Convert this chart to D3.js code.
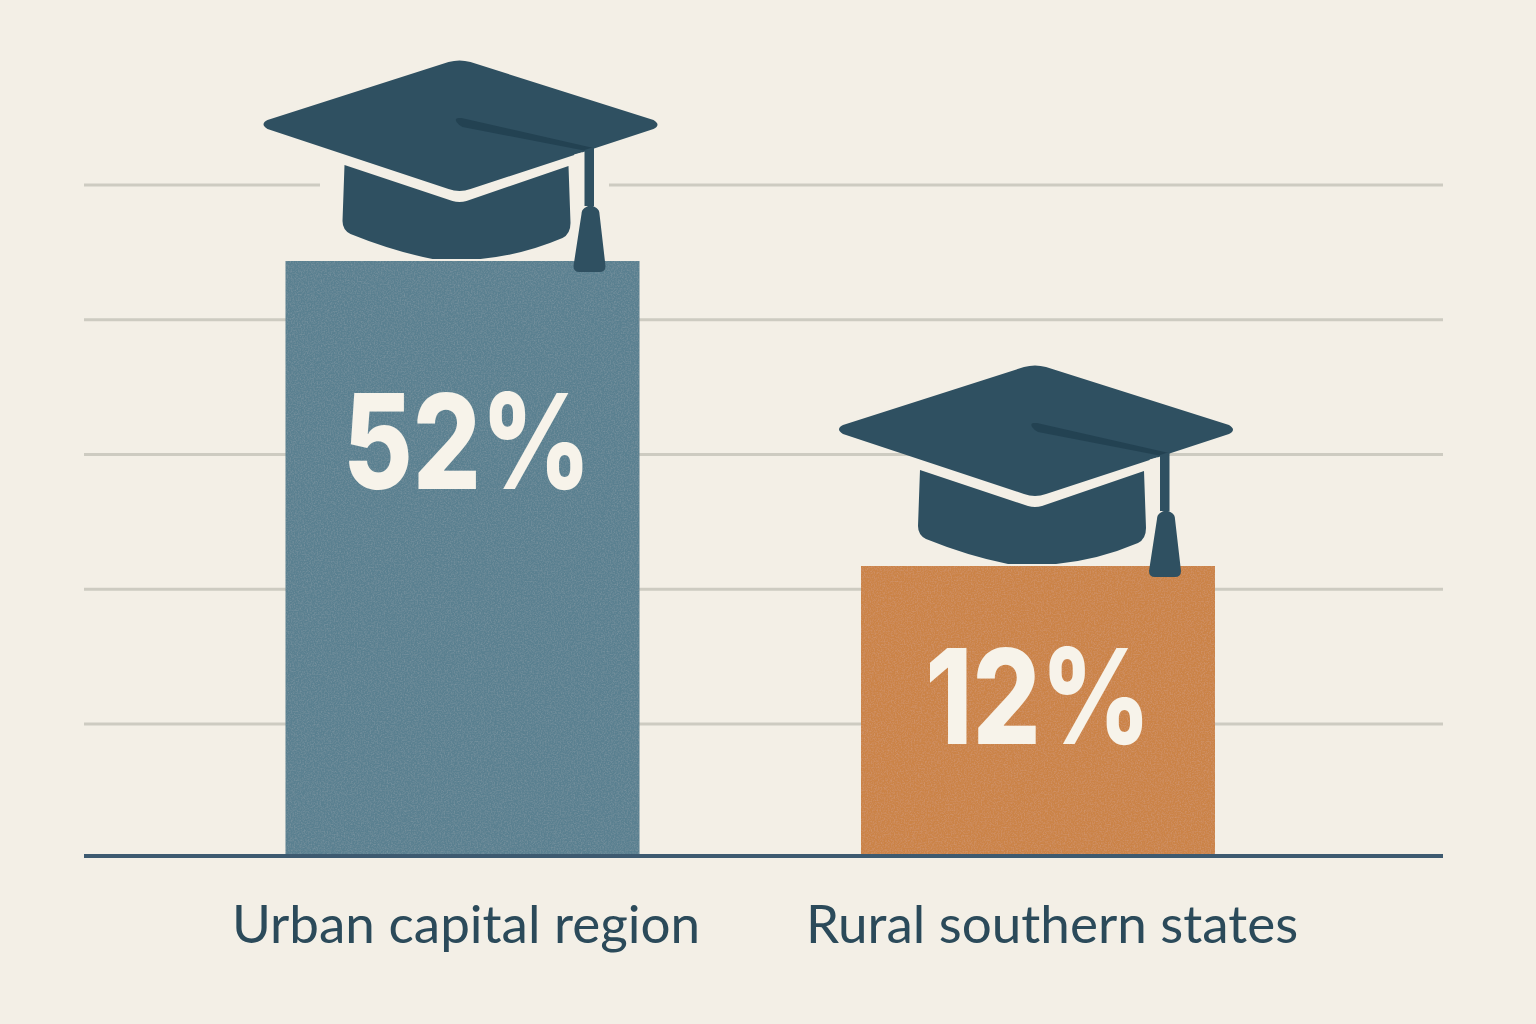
<!DOCTYPE html>
<html lang="en">
<head>
    <meta charset="UTF-8">
    <title>Urban capital region vs rural southern states</title>
    <script src="https://d3js.org/d3.v7.min.js"></script>
    <style>
        html, body {
            margin: 0;
            padding: 0;
            background: #f3efe6;
        }
        svg {
            display: block;
        }
        .grid line {
            stroke: #cdcbc1;
            stroke-width: 3px;
        }
        .value {
            font-family: Inter, "Noto Sans", sans-serif;
            font-weight: 800;
            font-size: 132px;
            fill: #f7f3ea;
            text-anchor: middle;
        }
        .category {
            font-family: Lato, "Noto Sans", sans-serif;
            font-size: 53px;
            fill: #2b4a5a;
            text-anchor: middle;
        }
    </style>
</head>
<body>
    <svg width="1536" height="1024"></svg>

    <script>
        // Values as printed on the bars
        const categories = ["Urban capital region", "Rural southern states"];
        const values = [52, 12];
        const valueLabels = ["52%", "12%"];
        const barColors = ["#5a8090", "#cb8346"];

        // Unlabelled background grid levels
        const gridLevels = [1, 2, 3, 4, 5];

        const svg = d3.select("svg");

        // Bars in the picture are not proportional to their labels, so the y scale has a knee at 12
        const y = d3.scaleLinear().domain([0, 12, 52]).range([856, 566, 261]);
        const gridY = d3.scaleLinear().domain([1, 5]).range([724, 185]);
        const x = d3.scaleBand().domain(categories).range([174.75, 1325.75]);
        const barWidth = 354;

        // Labels are not quite centred on the bars
        const labelX = d3.scalePoint().domain(categories).range([466, 1052]);
        const valueX = d3.scalePoint().domain(values).range([467, 1038]);
        const valueY = d3.scaleLinear().domain([52, 12]).range([489, 744]);

        svg.append("rect").attr("width", 1536).attr("height", 1024).attr("fill", "#f3efe6");

        // grain for the bars
        svg.append("defs").append("filter").attr("id", "grain")
            .call(f => {
                f.append("feTurbulence").attr("type", "fractalNoise").attr("baseFrequency", 0.7)
                    .attr("numOctaves", 2).attr("seed", 4).attr("result", "noise");
                f.append("feColorMatrix").attr("in", "noise").attr("type", "matrix")
                    .attr("values", "0 0 0 0 1  0 0 0 0 1  0 0 0 0 1  0.18 0 0 0 -0.07").attr("result", "speck");
                f.append("feComposite").attr("in", "speck").attr("in2", "SourceGraphic").attr("operator", "in").attr("result", "clip");
                f.append("feMerge").call(m => {
                    m.append("feMergeNode").attr("in", "SourceGraphic");
                    m.append("feMergeNode").attr("in", "clip");
                });
            });

        // Grid lines
        svg.append("g").attr("class", "grid")
            .selectAll("line")
            .data(gridLevels)
            .enter().append("line")
            .attr("x1", 84)
            .attr("x2", 1443)
            .attr("y1", d => gridY(d))
            .attr("y2", d => gridY(d));

        // Top grid line breaks around the first cap
        svg.append("line")
            .attr("x1", 320).attr("x2", 609)
            .attr("y1", gridY(5)).attr("y2", gridY(5))
            .attr("stroke", "#f3efe6").attr("stroke-width", 5);

        const centre = d => x(d) + x.bandwidth() / 2;

        // Bars
        svg.append("g")
            .selectAll("rect")
            .data(categories)
            .enter().append("rect")
            .attr("x", d => centre(d) - barWidth / 2)
            .attr("width", barWidth)
            .attr("y", (d, i) => y(values[i]))
            .attr("height", (d, i) => y(0) - y(values[i]))
            .attr("fill", (d, i) => barColors[i])
            .attr("filter", "url(#grain)");

        // Baseline
        svg.append("line")
            .attr("x1", 84).attr("x2", 1443)
            .attr("y1", y(0)).attr("y2", y(0))
            .attr("stroke", "#3d5a70").attr("stroke-width", 4);

        // Cap icon, local origin is the middle of the bar top
        function drawCap(g) {
            g.append("path").attr("fill", "#2f5061")
                .attr("d", "M-195-141L-14-199Q-3-202 8-199L191-141Q199-136 191-132L8-72Q-3-68-14-72L-195-132Q-203-137-195-141Z");
            g.append("path").attr("fill", "#2f5061")
                .attr("d", "M-118-96L-10-60Q-3-58 4-60L106-95L108-38Q108-27 100-23Q60-6 18-2L-30-2Q-70-10-112-27Q-120-31-120-40Z");
            // cream edge where the cord leaves the board
            g.append("path").attr("fill", "none").attr("stroke", "#f3efe6").attr("stroke-width", 3)
                .attr("d", "M112-105L119-107Q121-107 121-102L121-70");
            g.append("path").attr("fill", "#234252")
                .attr("d", "M-4-143Q-8-143-6-139Q-4-136 0-134L124-110L131-113L-1-143Z");
            g.append("path").attr("fill", "#2f5061")
                .attr("d", "M122-111L131.5-114L131.5-55L122-55Z");
            g.append("path").attr("fill", "#2f5061")
                .attr("d", "M122-53Q128-58 134-53Q137-51 137-47L143 5Q143 11 137 11L117 11Q111 11 111 5L119-47Q119-51 122-53Z");
        }

        svg.append("g")
            .selectAll("g")
            .data(categories)
            .enter().append("g")
            .attr("transform", (d, i) => `translate(${centre(d)},${y(values[i])})`)
            .call(drawCap);

        // Value labels, squeezed to the narrower look of the original numerals
        svg.append("g")
            .selectAll("text")
            .data(values)
            .enter().append("text")
            .attr("class", "value")
            .attr("transform", d => `translate(${valueX(d)},${valueY(d)}) scale(0.81,1)`)
            .text((d, i) => valueLabels[i]);

        // Category labels
        svg.append("g")
            .selectAll("text")
            .data(categories)
            .enter().append("text")
            .attr("class", "category")
            .attr("x", d => labelX(d))
            .attr("y", 943)
            .text(d => d);
    </script>
</body>
</html>
